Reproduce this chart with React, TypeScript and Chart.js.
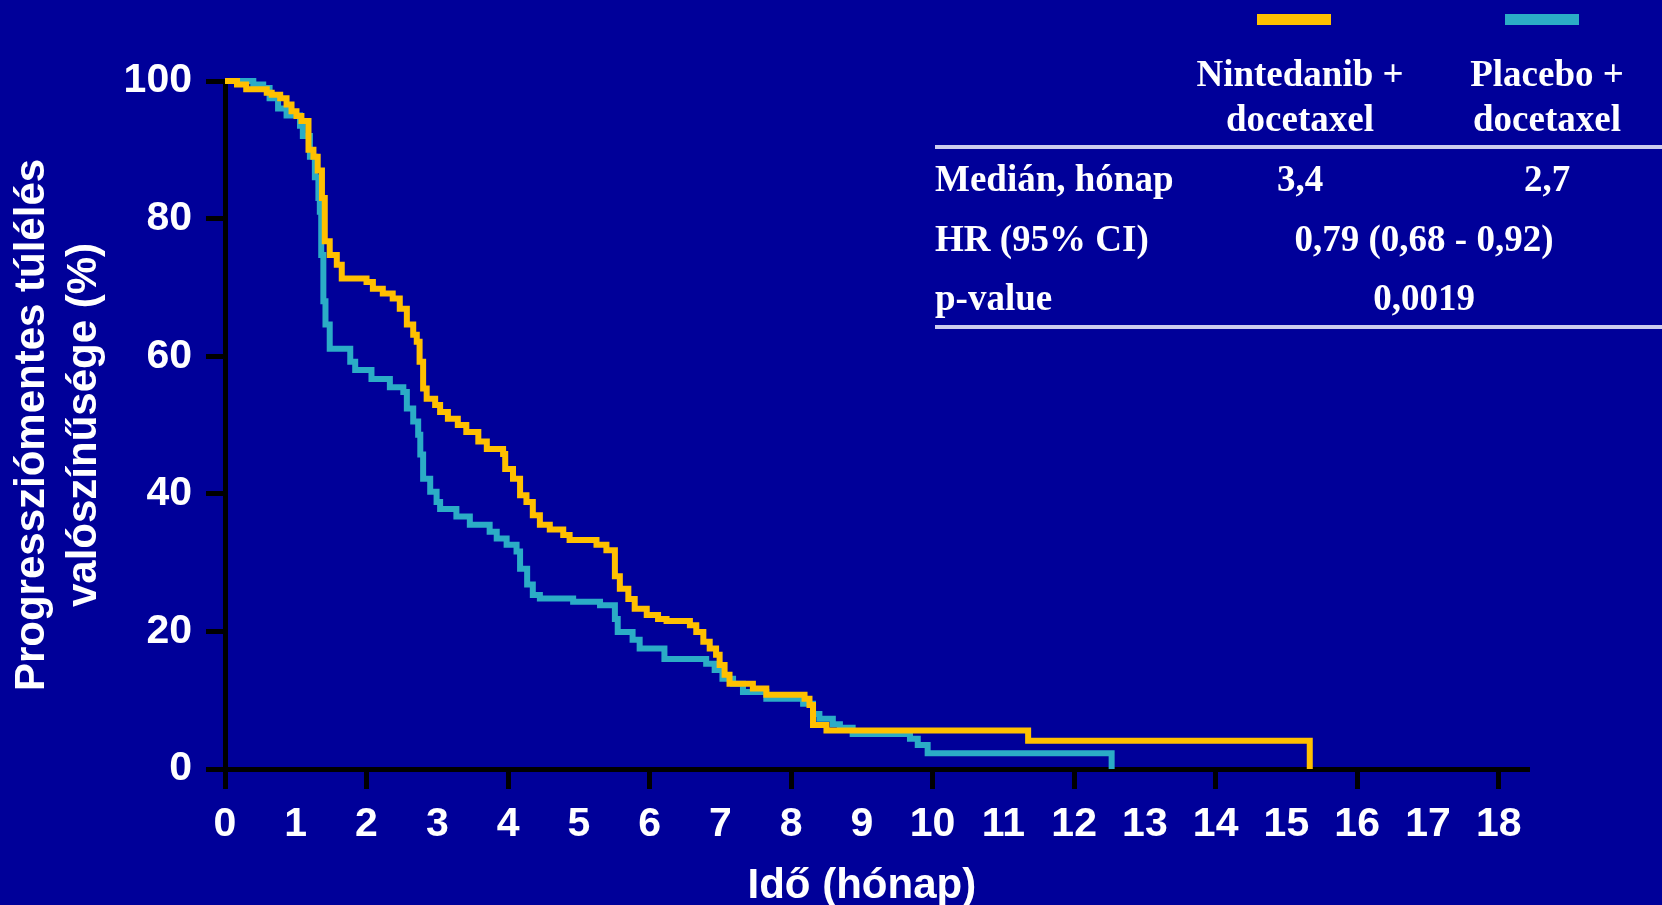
import { useEffect, useRef } from 'react';
import { Chart, registerables } from 'chart.js';

Chart.register(...registerables);

// ---- Data ----
const nintTime = [0, 0.17, 0.3, 0.59, 0.66, 0.78, 0.87, 0.94, 1.01, 1.08, 1.18, 1.25, 1.31, 1.37, 1.41, 1.48, 1.58, 1.65, 2.0, 2.09, 2.23, 2.37, 2.47, 2.57, 2.66, 2.71, 2.75, 2.8, 2.85, 2.97, 3.04, 3.15, 3.29, 3.41, 3.58, 3.7, 3.93, 3.96, 4.07, 4.17, 4.26, 4.35, 4.45, 4.59, 4.78, 4.87, 5.25, 5.39, 5.51, 5.58, 5.7, 5.79, 5.96, 6.12, 6.24, 6.57, 6.66, 6.76, 6.85, 6.94, 6.99, 7.06, 7.13, 7.46, 7.65, 8.19, 8.26, 8.31, 8.5, 11.35, 15.33];
const nintSurv = [100, 99.5, 98.8, 98.3, 98, 97.5, 96.6, 95.6, 94.9, 94.2, 90, 89, 87, 83, 76.7, 74.7, 73.3, 71.3, 70.8, 69.8, 69.1, 68.4, 66.9, 64.6, 63.1, 62.1, 59.2, 55.3, 53.8, 52.9, 51.9, 50.9, 50, 49, 47.6, 46.5, 45.8, 43.6, 42.2, 39.8, 38.8, 36.9, 35.5, 34.8, 34, 33.3, 32.6, 31.8, 28, 26.2, 24.7, 23.3, 22.4, 21.8, 21.5, 20.9, 19.9, 18.5, 17.5, 16.6, 15.1, 13.7, 12.4, 11.7, 10.8, 10.2, 9.3, 6.4, 5.6, 4.1, 0];

const placTime = [0, 0.4, 0.54, 0.63, 0.75, 0.87, 1.06, 1.1, 1.2, 1.27, 1.32, 1.34, 1.36, 1.39, 1.42, 1.48, 1.77, 1.84, 2.07, 2.33, 2.52, 2.57, 2.66, 2.73, 2.76, 2.8, 2.9, 2.99, 3.04, 3.27, 3.46, 3.74, 3.84, 3.98, 4.12, 4.17, 4.27, 4.35, 4.45, 4.92, 5.3, 5.51, 5.55, 5.76, 5.86, 6.21, 6.8, 6.92, 7.03, 7.18, 7.32, 7.65, 8.17, 8.31, 8.4, 8.59, 8.69, 8.87, 9.68, 9.79, 9.93, 12.53];
const placSurv = [100, 99.5, 99, 97.5, 96, 95, 93.5, 92, 89, 86, 83, 81, 74.7, 68, 64.6, 61.1, 59.2, 58, 56.7, 55.5, 54.8, 52.4, 50.5, 48.6, 45.7, 42.2, 40.3, 38.8, 37.8, 36.7, 35.5, 34.5, 33.5, 32.6, 31.6, 29.1, 26.8, 25.3, 24.8, 24.3, 23.8, 21.8, 19.9, 18.8, 17.5, 16, 15.3, 14.4, 13.1, 12.4, 11.2, 10.2, 9.5, 8, 7.3, 6.5, 6.0, 5.1, 4.4, 3.5, 2.3, 0];

const xTickValues = [0, 1, 2, 3, 4, 5, 6, 7, 8, 9, 10, 11, 12, 13, 14, 15, 16, 17, 18];
const yTickValues = [0, 20, 40, 60, 80, 100];
const seriesNames = ['Nintedanib + docetaxel', 'Placebo + docetaxel'];
const tableHeaders = [['Nintedanib +', 'docetaxel'], ['Placebo +', 'docetaxel']];
const rowLabels = ['Medián, hónap', 'HR (95% CI)', 'p-value'];
const medianValues = ['3,4', '2,7'];
const hrText = '0,79 (0,68 - 0,92)';
const pValueText = '0,0019';
const xTitle = 'Idő (hónap)';
const yTitle = ['Progressziómentes túlélés', 'valószínűsége (%)'];

// ---- Styles ----
const BG = '#000099';
const ORANGE = '#FFC000';
const TEAL = '#2BACC6';
const AXIS = '#000000';
const RULE = '#CCCCEE';
const SANS = '"Liberation Sans", Arial, sans-serif';
const SERIF = '"Liberation Serif", "Times New Roman", serif';

const W = 1662;
const H = 905;

const overlayPlugin = {
  id: 'overlay',
  afterDraw(chart: any) {
    const ctx = chart.ctx as CanvasRenderingContext2D;
    const xs = chart.scales.x;
    ctx.save();
    // legend swatches
    ctx.fillStyle = ORANGE;
    ctx.fillRect(1257, 14, 74, 11);
    ctx.fillStyle = TEAL;
    ctx.fillRect(1505, 14, 74, 11);

    // table
    ctx.fillStyle = '#FFFFFF';
    ctx.font = `bold 37px ${SERIF}`;
    ctx.textBaseline = 'alphabetic';
    ctx.textAlign = 'center';
    const colX = [1300, 1547];
    tableHeaders.forEach((lines, i) => {
      ctx.fillText(lines[0], colX[i], 86);
      ctx.fillText(lines[1], colX[i], 131);
    });
    ctx.strokeStyle = RULE;
    ctx.lineWidth = 4;
    ctx.beginPath();
    ctx.moveTo(935, 147);
    ctx.lineTo(W, 147);
    ctx.moveTo(935, 327);
    ctx.lineTo(W, 327);
    ctx.stroke();

    const rowY = [191, 251, 310];
    ctx.textAlign = 'left';
    rowLabels.forEach((t, i) => ctx.fillText(t, 935, rowY[i]));
    ctx.textAlign = 'center';
    medianValues.forEach((t, i) => ctx.fillText(t, colX[i], rowY[0]));
    ctx.fillText(hrText, 1424, rowY[1]);
    ctx.fillText(pValueText, 1424, rowY[2]);

    // x axis title centred on the 0-18 range
    ctx.font = `bold 42px ${SANS}`;
    ctx.fillText(xTitle, xs.getPixelForValue(9), 898);
    ctx.restore();
  },
};

export default function App() {
  const ref = useRef<HTMLCanvasElement | null>(null);

  useEffect(() => {
    if (!ref.current) return;
    const toPts = (t: number[], s: number[]) => t.map((v, i) => ({ x: v, y: s[i] }));
    const chart = new Chart(ref.current, {
      type: 'line',
      data: {
        datasets: [
          {
            label: seriesNames[0],
            data: toPts(nintTime, nintSurv),
            borderColor: ORANGE,
            borderWidth: 6,
            stepped: true,
            pointRadius: 0,
            fill: false,
            borderJoinStyle: 'miter',
            borderCapStyle: 'butt',
            clip: 10,
          },
          {
            label: seriesNames[1],
            data: toPts(placTime, placSurv),
            borderColor: TEAL,
            borderWidth: 6,
            stepped: true,
            pointRadius: 0,
            fill: false,
            borderJoinStyle: 'miter',
            borderCapStyle: 'butt',
            clip: 10,
          },
        ],
      },
      options: {
        responsive: false,
        animation: false,
        devicePixelRatio: 1,
        layout: { padding: { top: 81, right: 135, bottom: 0, left: 0 } },
        plugins: {
          legend: { display: false },
          tooltip: { enabled: false },
        },
        scales: {
          x: {
            type: 'linear',
            min: 0,
            max: 18.4,
            afterBuildTicks: (axis: any) => {
              axis.ticks = xTickValues.map((v) => ({ value: v }));
            },
            afterFit: (scale: any) => {
              scale.height = 136;
            },
            ticks: {
              color: '#FFFFFF',
              font: { family: SANS, weight: 'bold', size: 41 },
              padding: 11,
              maxRotation: 0,
              autoSkip: false,
            },
            grid: {
              drawOnChartArea: false,
              drawTicks: true,
              tickLength: 20,
              lineWidth: 5,
              color: (c: any) => (c.tick && c.tick.value % 2 === 0 ? AXIS : 'rgba(0,0,0,0)'),
            },
            border: { display: true, color: AXIS, width: 5 },
          },
          y: {
            type: 'linear',
            min: 0,
            max: 100,
            afterBuildTicks: (axis: any) => {
              axis.ticks = yTickValues.map((v) => ({ value: v }));
            },
            afterFit: (scale: any) => {
              scale.width = 225;
            },
            ticks: {
              color: '#FFFFFF',
              font: { family: SANS, weight: 'bold', size: 41 },
              padding: 14,
            },
            grid: {
              drawOnChartArea: false,
              drawTicks: true,
              tickLength: 19,
              lineWidth: 5,
              color: AXIS,
            },
            border: { display: true, color: AXIS, width: 5 },
            title: {
              display: true,
              text: yTitle,
              color: '#FFFFFF',
              font: { family: SANS, weight: 'bold', size: 42, lineHeight: 1.25 },
              padding: { top: 6, bottom: 0 },
            },
          },
        },
      },
      plugins: [overlayPlugin],
    } as any);
    return () => chart.destroy();
  }, []);

  return (
    <div style={{ position: 'fixed', left: 0, top: 0, width: W, height: H, background: BG }}>
      <canvas ref={ref} width={W} height={H} style={{ display: 'block', width: W, height: H }} />
    </div>
  );
}
